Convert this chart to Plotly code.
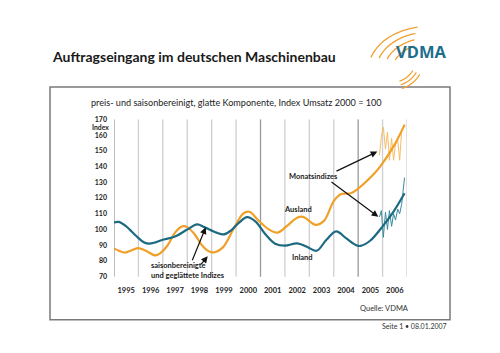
import math
import plotly.graph_objects as go

W, H = 500, 353

# ---------------- data ----------------
inland_x = [1995.0, 1995.2, 1995.5, 1995.9, 1996.2, 1996.4, 1996.7, 1997.0, 1997.5, 1998.0,
            1998.4, 1998.7, 1999.2, 1999.5, 1999.8, 2000.1, 2000.45, 2000.8, 2001.2, 2001.6,
            2002.0, 2002.5, 2002.9, 2003.3, 2003.7, 2004.1, 2004.5, 2004.95, 2005.1, 2005.5,
            2006.0, 2006.45, 2006.9]
inland_y = [104.5, 104.8, 102.0, 96.0, 92.0, 91.0, 91.8, 93.5, 95.5, 100.0,
            103.2, 101.5, 98.0, 96.9, 99.5, 104.0, 107.8, 105.0, 97.0, 91.0,
            89.7, 91.2, 89.0, 86.5, 93.5, 98.8, 94.5, 89.8, 89.6, 93.0,
            102.0, 111.4, 123.0]

ausland_x = [1995.0, 1995.2, 1995.45, 1995.75, 1996.0, 1996.3, 1996.7, 1996.9, 1997.2, 1997.5,
             1997.8, 1998.0, 1998.3, 1998.6, 1998.9, 1999.1, 1999.45, 1999.9, 2000.3, 2000.55,
             2000.9, 2001.35, 2001.7, 2002.1, 2002.5, 2002.75, 2003.25, 2003.6, 2004.0, 2004.3,
             2004.7, 2005.0, 2005.5, 2005.9, 2006.45, 2006.9]
ausland_y = [88.0, 86.5, 85.3, 87.0, 88.2, 86.5, 83.5, 85.0, 90.0, 98.0,
             102.0, 101.5, 97.0, 90.0, 86.0, 85.5, 88.5, 100.5, 110.3, 111.3,
             106.0, 100.0, 98.0, 102.5, 107.5, 108.0, 103.0, 105.5, 118.0, 122.5,
             123.0, 126.0, 133.0, 140.0, 152.8, 166.5]

monthly_x = [2005.87, 2005.95, 2006.03, 2006.12, 2006.2, 2006.28, 2006.37, 2006.45, 2006.53,
             2006.62, 2006.7, 2006.78, 2006.9]
inland_monthly = [108, 112, 95, 111, 100, 112, 102, 110, 106, 113, 110, 116, 133]
ausland_monthly = [147, 159, 165, 151, 162, 144, 158, 144, 154, 157, 144, 163, 167]

years = list(range(1995, 2007))
year_labels = [str(y) for y in years]
y_ticks = [70, 80, 90, 100, 110, 120, 130, 140, 150, 160, 170]

TEAL = "#1b6a82"
ORANGE = "#f0a028"
FONT = "Lato"

X0_PX, X1_PX = 114, 407
Y_TOP_PX, Y_BOT_PX = 117, 278


def px(x):
    return x / W


def py(y):
    return 1 - y / H


fig = go.Figure()

fig.add_trace(go.Scatter(x=monthly_x, y=ausland_monthly, mode="lines",
                         line=dict(color="#f6bd68", width=1), hoverinfo="skip"))
fig.add_trace(go.Scatter(x=monthly_x, y=inland_monthly, mode="lines",
                         line=dict(color="#3a8aa0", width=1), hoverinfo="skip"))
fig.add_trace(go.Scatter(x=ausland_x, y=ausland_y, mode="lines",
                         line=dict(color=ORANGE, width=2.2, shape="spline", smoothing=1.0),
                         hoverinfo="skip"))
fig.add_trace(go.Scatter(x=inland_x, y=inland_y, mode="lines",
                         line=dict(color=TEAL, width=2.2, shape="spline", smoothing=1.0),
                         hoverinfo="skip"))

shapes = []
# vertical year grid lines
for yr in range(1995, 2008):
    col = "#9a9a9a" if yr in (1995, 2001, 2005) else "#cfcfcf"
    shapes.append(dict(type="line", xref="x", yref="y", x0=yr, x1=yr, y0=68.5, y1=170,
                       line=dict(color=col, width=1.3), layer="below"))
# frame
shapes.append(dict(type="rect", xref="paper", yref="paper", x0=px(50), x1=px(450),
                   y0=py(322), y1=py(84), line=dict(color="#7a7a7a", width=1.5)))


# VDMA logo arcs
def arc(cx, cy, rx, ry, a0, a1, n=24):
    pts = []
    for i in range(n + 1):
        a = math.radians(a0 + (a1 - a0) * i / n)
        x = cx + rx * math.cos(a)
        y = cy - ry * math.sin(a)
        pts.append((px(x), py(y)))
    return "M " + " L ".join(f"{a:.5f},{b:.5f}" for a, b in pts)


for rx, ry, a0, a1 in [(36, 28, 112, 155), (44, 34, 108, 158), (52, 40, 104, 160), (60, 46, 100, 162)]:
    shapes.append(dict(type="path", xref="paper", yref="paper", path=arc(428, 68, rx, ry, a0, a1),
                       line=dict(color="#f0a030", width=1.3)))
for r in [24, 28, 32]:
    shapes.append(dict(type="path", xref="paper", yref="paper", path=arc(392, 55, r, r, -72, -30),
                       line=dict(color="#f0a030", width=1.3)))

annotations = []
annotations.append(dict(xref="paper", yref="paper", x=px(50), y=py(53), xanchor="left",
                        yanchor="middle", showarrow=False,
                        text="<b>Auftragseingang im deutschen Maschinenbau</b>",
                        font=dict(family=FONT, size=14, color="#1a1a1a")))
annotations.append(dict(xref="paper", yref="paper", x=px(421), y=py(48), xanchor="center",
                        yanchor="middle", showarrow=False, text="<b>VDMA</b>",
                        font=dict(family="Open Sans", size=16.5, color="#1d6f8c")))
annotations.append(dict(xref="paper", yref="paper", x=px(89), y=py(100), xanchor="left",
                        yanchor="middle", showarrow=False,
                        text="preis- und saisonbereinigt, glatte Komponente, Index Umsatz 2000 = 100",
                        font=dict(family=FONT, size=9.1, color="#222222")))
annotations.append(dict(xref="paper", yref="paper", x=px(111), y=py(124.5), xanchor="right",
                        yanchor="middle", showarrow=False, text="<b>Index</b>",
                        font=dict(family=FONT, size=6.8, color="#222222")))
annotations.append(dict(xref="paper", yref="paper", x=px(411), y=py(311), xanchor="right",
                        yanchor="middle", showarrow=False, text="Quelle: VDMA",
                        font=dict(family=FONT, size=7.5, color="#333333")))
annotations.append(dict(xref="paper", yref="paper", x=px(449), y=py(328), xanchor="right",
                        yanchor="middle", showarrow=False, text="Seite 1 \u2022 08.01.2007",
                        font=dict(family=FONT, size=7, color="#333333")))


def dx(p):
    return 1995 + (p - X0_PX) / ((X1_PX - X0_PX) / 12)


def dy(p):
    return 70 + (Y_BOT_PX - p) / ((Y_BOT_PX - Y_TOP_PX) / 100)


lbl_font = dict(family=FONT, size=7.5, color="#222222")
annotations.append(dict(x=dx(298), y=dy(209), text="<b>Ausland</b>", showarrow=False, font=lbl_font))
annotations.append(dict(x=dx(302), y=dy(258), text="<b>Inland</b>", showarrow=False, font=lbl_font))
annotations.append(dict(x=dx(313), y=dy(175), text="<b>Monatsindizes</b>", showarrow=False, font=lbl_font))
annotations.append(dict(x=dx(149), y=dy(272), xanchor="left", align="left",
                        text="<b>saisonbereinigte<br>und geglättete Indizes</b>",
                        showarrow=False, font=lbl_font))

arrows = [((335, 170.7), (377.3, 150)), ((330, 180), (378.3, 216.7)),
          ((191.7, 262.7), (205.7, 227.5)), ((200, 266.7), (207.7, 257))]
for (tx, ty), (hx, hy) in arrows:
    annotations.append(dict(x=dx(hx), y=dy(hy), ax=dx(tx), ay=dy(ty), axref="x", ayref="y",
                            text="", showarrow=True, arrowhead=2, arrowsize=1.1,
                            arrowwidth=1.2, arrowcolor="#111111"))

fig.update_layout(
    width=W, height=H, autosize=False,
    margin=dict(l=0, r=0, t=0, b=0),
    paper_bgcolor="white", plot_bgcolor="white",
    showlegend=False,
    shapes=shapes, annotations=annotations,
    xaxis=dict(domain=[px(X0_PX), px(X1_PX)], range=[1995, 2007], showgrid=False,
               zeroline=False, showline=False, ticks="",
               tickvals=[y + 0.5 for y in years],
               ticktext=[f"<b>{t}</b>" for t in year_labels],
               tickfont=dict(family=FONT, size=7.5, color="#222222"),
               ticklabelstandoff=8),
    yaxis=dict(domain=[py(Y_BOT_PX), py(Y_TOP_PX)], range=[70, 170], showgrid=False,
               zeroline=False, showline=False, ticks="",
               tickvals=y_ticks, ticktext=[f"<b>{v}</b>" for v in y_ticks],
               tickfont=dict(family=FONT, size=7, color="#222222"),
               ticklabelstandoff=6),
)

fig.write_html("out.html")
